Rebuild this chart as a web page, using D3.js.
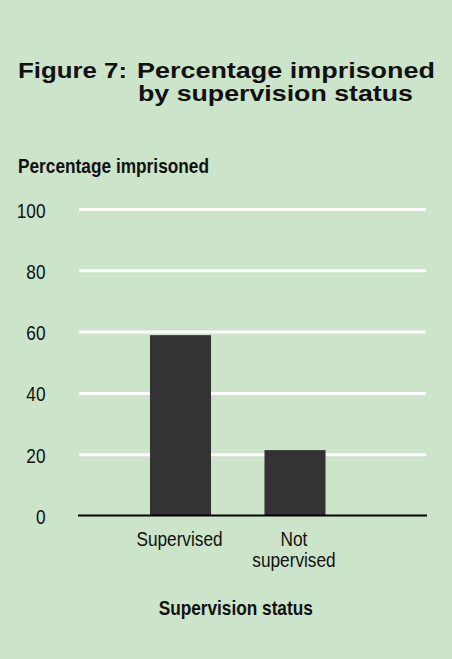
<!DOCTYPE html>
<html>
<head>
<meta charset="utf-8">
<script src="https://cdn.jsdelivr.net/npm/d3@7"></script>
<style>
  html, body { margin: 0; padding: 0; background: #cce4c9; }
  svg { display: block; }
  text { fill: #111; }
</style>
</head>
<body>
<svg id="chart" width="452" height="659"></svg>
<script>
// ---- data ----
const categories = ["Supervised", "Not supervised"];
const categoryLines = [["Supervised"], ["Not", "supervised"]];
const values = [59, 21.5];
const yTicks = [0, 20, 40, 60, 80, 100];
const titleLead = "Figure 7:";
const titleLines = ["Percentage imprisoned", "by supervision status"];
const yTitle = "Percentage imprisoned";
const xTitle = "Supervision status";

const W = 452, H = 659;
const sans = "'Liberation Sans', Arial, Helvetica, sans-serif";
const NARROW = 0.82;

// condense a text horizontally to mimic Arial Narrow
function condense(sel) {
  sel.each(function () {
    const len = this.getComputedTextLength();
    d3.select(this).attr("textLength", len * NARROW).attr("lengthAdjust", "spacingAndGlyphs");
  });
}

const svg = d3.select("#chart");
svg.append("rect").attr("x", 0).attr("y", 0).attr("width", W).attr("height", H)
  .attr("fill", "#cce4c9");

// scales
const y = d3.scaleLinear().domain([0, 100]).range([516, 209.5]);
const x = d3.scaleBand().domain(categories).range([123.25, 352.25])
  .paddingInner(0.467).paddingOuter(0.2335);

const plotLeft = 79, plotRight = 426;

// title (one text element, hanging indent)
const tt = svg.append("text").attr("font-family", sans).attr("font-weight", "bold").attr("font-size", 22.5);
tt.append("tspan").attr("x", 18).attr("y", 78).attr("textLength", 109).attr("lengthAdjust", "spacingAndGlyphs").text(titleLead);
tt.append("tspan").attr("x", 137).attr("y", 78).attr("textLength", 298).attr("lengthAdjust", "spacingAndGlyphs").text(titleLines[0]);
tt.append("tspan").attr("x", 138).attr("y", 101).attr("textLength", 275).attr("lengthAdjust", "spacingAndGlyphs").text(titleLines[1]);

// y title
svg.append("text").attr("x", 18).attr("y", 173)
  .attr("font-family", sans).attr("font-weight", "bold").attr("font-size", 21)
  .attr("textLength", 191).attr("lengthAdjust", "spacingAndGlyphs")
  .text(yTitle);

// gridlines
svg.append("g").selectAll("line").data(yTicks.filter(d => d > 0)).join("line")
  .attr("x1", plotLeft).attr("x2", plotRight)
  .attr("y1", d => y(d)).attr("y2", d => y(d))
  .attr("stroke", "#ffffff").attr("stroke-width", 3);

// y axis labels
const yAxis = d3.axisLeft(y).tickValues(yTicks).tickSize(0).tickPadding(33.5).tickFormat(d3.format("d"));
const yg = svg.append("g").attr("transform", `translate(${plotLeft},0)`).call(yAxis);
yg.select(".domain").remove();
yg.selectAll("text").attr("font-family", sans).attr("font-size", 21).attr("fill", "#111").attr("dy", "0.36em")
  .call(condense);

// bars
svg.append("g").selectAll("rect").data(values).join("rect")
  .attr("x", (d, i) => x(categories[i]))
  .attr("width", x.bandwidth())
  .attr("y", d => y(d))
  .attr("height", d => y(0) - y(d))
  .attr("fill", "#333333");

// baseline
svg.append("line").attr("x1", plotLeft - 1).attr("x2", plotRight + 1)
  .attr("y1", y(0) - 0.5).attr("y2", y(0) - 0.5)
  .attr("stroke", "#000").attr("stroke-width", 2);

// x labels
const xl = svg.append("g").attr("font-family", sans).attr("font-size", 21).attr("text-anchor", "middle");
categories.forEach((c, i) => {
  const cx = x(c) + x.bandwidth() / 2 - 1;
  categoryLines[i].forEach((ln, j) => {
    xl.append("text").attr("x", cx).attr("y", 546 + j * 21).text(ln).call(condense);
  });
});

// x title
svg.append("text").attr("x", (x(categories[0]) + x(categories[1]) + x.bandwidth()) / 2 - 2).attr("y", 615)
  .attr("text-anchor", "middle")
  .attr("font-family", sans).attr("font-weight", "bold").attr("font-size", 21)
  .text(xTitle).call(condense);
</script>
</body>
</html>
